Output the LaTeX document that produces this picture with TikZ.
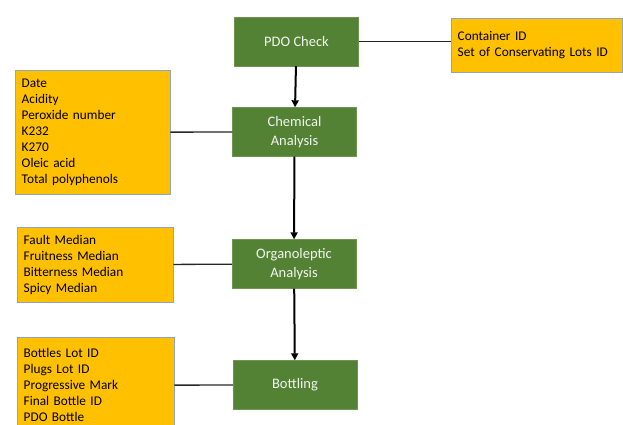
\documentclass[tikz,border=0pt]{standalone}
\usepackage{fontspec}
\setmainfont{Carlito}
\usetikzlibrary{arrows.meta}

\definecolor{stagegreen}{HTML}{548235}
\definecolor{attryellow}{HTML}{FFC000}
\definecolor{attrborder}{HTML}{8FA5C4}

\begin{document}
\begin{tikzpicture}[x=1pt, y=-1pt,
    stage/.style ={rectangle, fill=stagegreen, draw=stagegreen!85!white, text=white!92!stagegreen,
                   minimum width=124pt, minimum height=49pt, inner sep=0pt, align=center,
                   font=\fontsize{14.5}{19}\selectfont},
    attrs/.style ={rectangle, fill=attryellow, draw=attrborder, anchor=north west, align=left,
                   inner xsep=6.5pt, text width=#1, font=\fontsize{13.3}{16}\selectfont},
    flow/.style ={line width=2pt, -{Triangle[length=7pt, width=7pt]}},
    link/.style ={line width=1.3pt, black!85}]
   \useasboundingbox (0,0) rectangle (623,425);
   % process steps
   \node[stage] (pdo)  at (296.5,41.5) {PDO Check};
   \node[stage] (chem) at (294.5,132)  {Chemical\\Analysis};
   \node[stage] (org)  at (294,264)    {Organoleptic\\Analysis};
   \node[stage] (bot)  at (295,385)    {Bottling};
   % recorded attributes
   \node[attrs=158pt, minimum height=54pt] (cont) at (451,18)
      {Container ID\\Set of Conservating Lots ID};
   \node[attrs=142pt, minimum height=124pt] (chemattr) at (15,70)
      {Date\\Acidity\\Peroxide number\\K232\\K270\\Oleic acid\\Total polyphenols};
   \node[attrs=143pt, minimum height=75pt] (orgattr) at (17,227)
      {Fault Median\\Fruitness Median\\Bitterness Median\\Spicy Median};
   \node[attrs=144pt, minimum height=96pt] (botattr) at (17,337)
      {Bottles Lot ID\\Plugs Lot ID\\Progressive Mark\\Final Bottle ID\\PDO Bottle};
   \draw[flow] (pdo) -- (chem);
   \draw[flow] (chem) -- (org);
   \draw[flow] (org) -- (bot);
   \draw[link] (pdo.east) -- (pdo.east -| cont.west);
   \draw[link] (chemattr) -- (chem);
   \draw[link] (orgattr) -- (org);
   \draw[link] (botattr) -- (bot);
 \end{tikzpicture}
\end{document}
